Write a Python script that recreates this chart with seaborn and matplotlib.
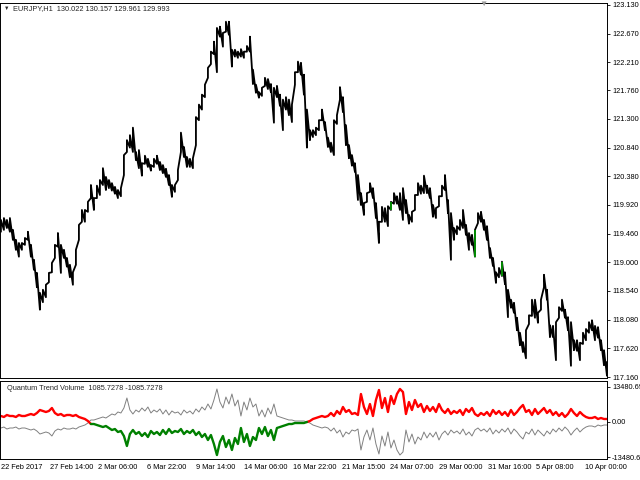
import numpy as np
import pandas as pd
import matplotlib
matplotlib.use("Agg")
import matplotlib.pyplot as plt
import seaborn as sns

##########################
### EURJPY H1 + QTV    ###
##########################

SYMBOL_TITLE = "EURJPY,H1  130.022 130.157 129.961 129.993"
INDICATOR_TITLE = "Quantum Trend Volume  1085.7278 -1085.7278"

# one entry every ~4 hourly bars
price_high = [
    119.68, 119.71, 119.68, 119.71, 119.52, 119.36, 119.31, 119.31, 119.39, 119.49,
    119.28, 119.04, 118.83, 118.51, 118.56, 118.64, 118.83, 118.99, 119.28, 119.47,
    119.28, 119.20, 119.07, 118.96, 118.84, 119.20, 119.60, 119.84, 119.84, 119.97,
    120.24, 120.03, 120.23, 120.32, 120.51, 120.37, 120.32, 120.27, 120.21, 120.16,
    120.19, 120.72, 120.96, 121.04, 121.16, 120.77, 120.80, 120.59, 120.71, 120.66,
    120.56, 120.66, 120.71, 120.61, 120.56, 120.50, 120.40, 120.24, 120.24, 120.48,
    121.08, 120.85, 120.69, 120.66, 120.67, 121.33, 121.53, 121.69, 121.85, 122.12,
    122.38, 122.54, 122.76, 122.78, 122.68, 122.86, 122.86, 122.41, 122.41, 122.38,
    122.42, 122.38, 122.47, 122.62, 122.09, 121.85, 121.73, 121.80, 121.96, 121.94,
    121.86, 121.80, 121.83, 121.69, 121.61, 121.65, 121.61, 121.53, 122.05, 122.22,
    122.20, 122.01, 121.45, 121.12, 121.12, 121.16, 121.28, 121.45, 121.25, 121.00,
    120.92, 121.28, 121.36, 121.81, 121.65, 121.20, 120.88, 120.72, 120.59, 120.40,
    120.11, 119.95, 120.11, 120.27, 120.19, 119.95, 119.65, 119.89, 119.87, 119.90,
    119.97, 120.11, 120.06, 120.11, 120.19, 120.00, 119.76, 119.81, 120.08, 120.27,
    120.23, 120.39, 120.23, 120.19, 119.92, 119.87, 120.06, 120.23, 120.40, 120.00,
    119.79, 119.55, 119.58, 119.68, 119.84, 119.60, 119.47, 119.44, 119.52, 119.79,
    119.81, 119.68, 119.58, 119.23, 119.07, 118.84, 118.91, 119.01, 118.84, 118.56,
    118.40, 118.35, 118.11, 117.87, 117.72, 117.91, 118.15, 118.40, 118.40, 118.19,
    118.40, 118.80, 118.56, 117.99, 117.98, 118.04, 118.28, 118.40, 118.24, 118.12,
    118.04, 117.75, 117.75, 117.71, 117.87, 117.93, 118.04, 118.07, 117.98, 117.96,
    117.75, 117.59, 117.40,
]
price_low = [
    119.49, 119.52, 119.55, 119.49, 119.36, 119.20, 119.09, 119.20, 119.28, 119.36,
    119.09, 118.88, 118.60, 118.24, 118.36, 118.44, 118.68, 118.84, 119.07, 119.25,
    118.83, 119.07, 118.93, 118.76, 118.64, 118.96, 119.36, 119.65, 119.65, 119.81,
    120.03, 119.84, 120.03, 120.08, 120.24, 120.16, 120.19, 120.15, 120.10, 120.03,
    120.06, 120.40, 120.77, 120.84, 120.77, 120.64, 120.51, 120.39, 120.58, 120.53,
    120.47, 120.53, 120.58, 120.48, 120.43, 120.37, 120.24, 120.05, 120.13, 120.32,
    120.77, 120.69, 120.53, 120.53, 120.51, 120.88, 121.28, 121.45, 121.65, 121.96,
    122.18, 122.34, 122.05, 122.62, 122.46, 122.70, 122.65, 122.14, 122.30, 122.28,
    122.30, 122.28, 122.38, 122.38, 121.86, 121.72, 121.64, 121.67, 121.83, 121.78,
    121.73, 121.24, 121.65, 121.51, 121.12, 121.45, 121.36, 121.25, 121.85, 122.05,
    122.01, 121.69, 120.84, 120.96, 121.01, 121.04, 121.12, 121.28, 121.12, 120.85,
    120.77, 120.72, 121.22, 121.61, 121.41, 120.88, 120.67, 120.55, 120.45, 120.00,
    119.92, 119.76, 119.97, 120.13, 120.03, 119.71, 119.31, 119.65, 119.65, 119.58,
    119.84, 119.94, 119.94, 119.84, 119.68, 119.79, 119.62, 119.65, 119.84, 120.08,
    120.10, 120.11, 120.11, 120.03, 119.73, 119.71, 119.90, 120.06, 120.16, 119.79,
    119.04, 119.36, 119.45, 119.52, 119.55, 119.44, 119.20, 119.28, 119.09, 119.63,
    119.65, 119.52, 119.36, 119.07, 118.94, 118.67, 118.76, 118.78, 118.65, 118.12,
    118.27, 118.19, 117.91, 117.67, 117.56, 117.46, 118.01, 118.14, 118.11, 118.03,
    118.24, 118.60, 118.40, 117.80, 117.80, 117.43, 118.11, 118.22, 118.11, 117.91,
    117.34, 117.59, 117.58, 117.43, 117.69, 117.75, 117.87, 117.91, 117.75, 117.79,
    117.59, 117.35, 117.18,
]
# bars drawn in green on the chart
green_bars = [130, 158, 167]

# Quantum Trend Volume, same sampling as the prices
qtv = [
    2310, 1930, 2700, 2310, 2310, 1930, 2700, 2310, 2310, 2700,
    3080, 2700, 3470, 4620, 4240, 3850, 4240, 5390, 3470, 2700,
    3080, 2310, 2700, 2700, 2310, 2700, 1930, 1540, 1160, 390,
    -770, -770, -1160, -1540, -1930, -1540, -2310, -3080, -2700, -3850,
    -3470, -5390, -9240, -4620, -3080, -4620, -3850, -5390, -4240, -5780,
    -3470, -4620, -3850, -5010, -3080, -4620, -2700, -4240, -3470, -3850,
    -2700, -4620, -3470, -4240, -3080, -5010, -3850, -5780, -4620, -6930,
    -5010, -8470, -12710, -7700, -5390, -9630, -6930, -10780, -6160, -8470,
    -2310, -7700, -4620, -9240, -5780, -6930, -2310, -4620, -1930, -5390,
    -3080, -6930, -2310, -1930, -1540, -1160, -770, -770, -390, -390,
    -390, -390, 0, 390, 1160, 1540, 1930, 2310, 1930, 2310,
    3470, 2310, 4240, 3080, 5780, 3850, 4620, 3080, 3470, 2700,
    10780, 5780, 3080, 6930, 2310, 8470, 12320, 5390, 9240, 3850,
    10010, 6930, 10780, 12710, 11550, 3080, 7700, 4620, 8470, 5780,
    6930, 3850, 6160, 4240, 5780, 3850, 6930, 4620, 3470, 5010,
    3080, 4240, 3470, 4620, 2700, 5010, 3850, 5390, 3080, 2310,
    3470, 2700, 3850, 2310, 4620, 3080, 4240, 2700, 3850, 2310,
    4620, 2700, 3850, 5390, 6550, 3850, 4620, 2700, 5010, 3080,
    4240, 5390, 3470, 4620, 2700, 3850, 2310, 3470, 1930, 3080,
    5010, 3470, 2310, 3850, 2700, 1930, 1540, 1540, 1930, 1160,
    1540, 1160, 1160,
]

price_ticks = [123.130, 122.670, 122.210, 121.760, 121.300, 120.840, 120.380,
               119.920, 119.460, 119.000, 118.540, 118.080, 117.620, 117.160]
qtv_ticks = [13480.69, 0.0, -13480.69]
qtv_tick_labels = ["13480.69", "0.00", "-13480.69"]
date_labels = ["22 Feb 2017", "27 Feb 14:00", "2 Mar 06:00", "6 Mar 22:00",
               "9 Mar 14:00", "14 Mar 06:00", "16 Mar 22:00", "21 Mar 15:00",
               "24 Mar 07:00", "29 Mar 00:00", "31 Mar 16:00", "5 Apr 08:00",
               "10 Apr 00:00"]

FONT = ["Liberation Sans", "DejaVu Sans"]
FS = 5.3

sns.set_style("white")
plt.rcParams["font.family"] = FONT
plt.rcParams["axes.linewidth"] = 0.7

n = len(price_high)
bar_idx = np.arange(n)

fig = plt.figure(figsize=(6.4, 4.8), dpi=100)
ax = fig.add_axes([0.0, 0.2125, 0.9484, 0.7815])
ax2 = fig.add_axes([0.0, 0.04375, 0.9484, 0.1625])

# price bars: walk low -> high for each sample
bars = pd.DataFrame({
    "bar": np.repeat(bar_idx, 2),
    "price": np.column_stack([price_low, price_high]).ravel(),
})
sns.lineplot(data=bars, x="bar", y="price", estimator=None, sort=False,
             color="black", lw=1.3, ax=ax)
ax.vlines(green_bars, [price_low[i] for i in green_bars],
          [price_high[i] for i in green_bars], color="#00a000", lw=1.2, zorder=3)

# indicator: grey mirror + red/green trend line
qs = pd.Series(qtv, dtype=float)
sns.lineplot(x=bar_idx, y=-qs, color="#808080", lw=0.7, ax=ax2)

trend = pd.Series(np.where(qs >= 0, "up", "down"))
run = (trend != trend.shift()).cumsum()
rows = []
for r in run.unique():
    idx = list(run.index[run == r])
    if idx[-1] + 1 < n:
        idx.append(idx[-1] + 1)
    for i in idx:
        rows.append({"bar": i, "qtv": qs[i], "trend": trend[idx[0]], "run": r})
seg = pd.DataFrame(rows)
sns.lineplot(data=seg, x="bar", y="qtv", hue="trend", units="run",
             estimator=None, sort=False, lw=1.7, legend=False,
             palette={"up": "#ff0000", "down": "#008000"}, ax=ax2)

for a in (ax, ax2):
    a.set_xlim(-0.3, n - 1)
    a.set_xlabel("")
    a.set_ylabel("")
    a.yaxis.tick_right()
    for s in a.spines.values():
        s.set_color("black")
        s.set_linewidth(0.7)

ax.set_ylim(117.144, 123.162)
ax.set_yticks(price_ticks)
ax.set_yticklabels([f"{t:.3f}" for t in price_ticks])
ax.set_xticks([])
ax.tick_params(axis="y", direction="out", length=2.5, width=0.6,
               labelsize=FS, pad=1.5, colors="black")

ax2.set_ylim(-14245, 15785)
ax2.set_yticks(qtv_ticks)
ax2.set_yticklabels(qtv_tick_labels)
step = (n - 1) / 12.45
ax2.set_xticks([k * step for k in range(len(date_labels))])
ax2.set_xticklabels(date_labels, ha="left")
ax2.tick_params(axis="both", direction="out", length=2.2, width=0.6,
                labelsize=FS, pad=1.5, colors="black")

fig.text(0.006, 0.983, "▼", fontsize=4, va="center", ha="left", family=FONT)
fig.text(0.021, 0.983, SYMBOL_TITLE, fontsize=FS, va="center", ha="left")
fig.text(0.755, 0.991, "▼", fontsize=6, color="#9a9a9a", va="center", ha="center",
         family=FONT)
fig.text(0.011, 0.191, INDICATOR_TITLE, fontsize=FS, va="center", ha="left")

fig.savefig("out.png", dpi=100)
